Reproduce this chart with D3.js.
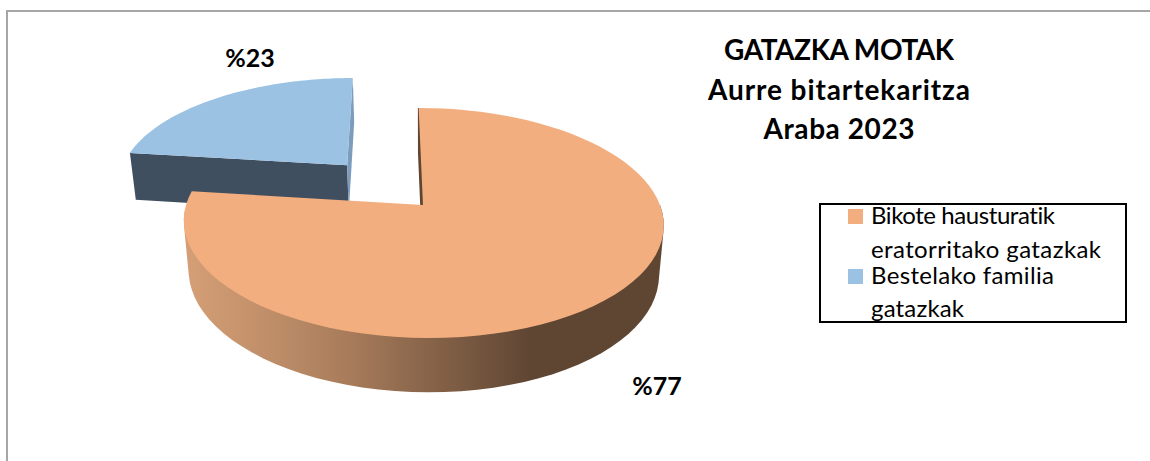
<!DOCTYPE html>
<html>
<head>
<meta charset="utf-8">
<script src="https://d3js.org/d3.v7.min.js"></script>
<style>
    html, body { margin: 0; padding: 0; background: #fff; }
    svg { display: block; }
    text { font-family: Lato, Carlito, sans-serif; font-variant-ligatures: none; }
</style>
</head>
<body>
<div id="canvas"></div>
<script>
const width = 1150;
const height = 461;

const categories = ["Bikote hausturatik eratorritako gatazkak", "Bestelako familia gatazkak"];
const values = [77, 23];
const titleLines = ["GATAZKA MOTAK", "Aurre bitartekaritza", "Araba 2023"];
const legendLines = [["Bikote hausturatik", "eratorritako gatazkak"], ["Bestelako familia", "gatazkak"]];

const topColors = ["#F2AE7F", "#9BC1E3"];

// tilted disc: u,v are coordinates on the unit disc, v points at the viewer
const apexX = 423, apexY = 205;
const discX = 237, discY = 112.2;
const persp = 0.1565, skew = 0.045;
const explode = 0.5;

function project(u, v) {
    const y = discY * v / (1 - persp * v);
    return [apexX + discX * u / (1 - persp * v) + skew * y, apexY + y];
}

// same point on the underside of the slab
function lower(p) {
    return [apexX + (p[0] - apexX) * 0.98, p[1] + 49 + (p[1] - apexY) * 0.04];
}

const svg = d3.select("#canvas")
    .append("svg")
    .attr("width", width)
    .attr("height", height)
    .style("background-color", "#fff");

const defs = svg.append("defs");
const wallGrad = defs.append("linearGradient")
    .attr("id", "wallGrad")
    .attr("gradientUnits", "userSpaceOnUse")
    .attr("x1", 185).attr("x2", 665).attr("y1", 0).attr("y2", 0);
[[0, "#D59F76"], [0.2, "#BC8C67"], [0.35, "#A67A5A"], [0.55, "#7F5E45"], [0.72, "#5F4633"], [1, "#5F4633"]]
    .forEach(s => wallGrad.append("stop").attr("offset", s[0]).attr("stop-color", s[1]));

// outer frame, only top and left show
svg.append("path")
    .attr("d", d3.line()([[7, height], [7, 11], [width, 11]]))
    .attr("fill", "none")
    .attr("stroke", "#A6A6A6")
    .attr("stroke-width", 2);

const slices = d3.pie().sort(null).value(d => d).startAngle(0).endAngle(2 * Math.PI)(values);
const line = d3.line();

function sliceGeom(s, offset) {
    const mid = (s.startAngle + s.endAngle) / 2;
    const ou = offset * Math.sin(mid), ov = -offset * Math.cos(mid);
    const rim = d3.range(0, 81).map(i => {
        const a = s.startAngle + (s.endAngle - s.startAngle) * i / 80;
        return project(ou + Math.sin(a), ov - Math.cos(a));
    });
    return { apex: project(ou, ov), rim: rim };
}

const big = sliceGeom(slices[0], 0);
const small = sliceGeom(slices[1], explode);

// blue slice goes first, the orange one sits in front of it
const smallFirst = small.rim[0], smallLast = small.rim[small.rim.length - 1];
svg.append("path")
    .attr("d", line([smallFirst, small.apex, lower(small.apex), lower(smallFirst)]) + "Z")
    .attr("fill", "#3F4F5F");
svg.append("path")
    .attr("d", line([smallLast, small.apex, lower(small.apex), lower(smallLast)]) + "Z")
    .attr("fill", "#7C9CBD");
svg.append("path")
    .attr("d", line([small.apex, ...small.rim]) + "Z")
    .attr("fill", topColors[1]);

const bigFirst = big.rim[0];
svg.append("path")
    .attr("d", line([bigFirst, big.apex, lower(big.apex), lower(bigFirst)]) + "Z")
    .attr("fill", "#5F4633")
    .attr("stroke", "#5F4633")
    .attr("stroke-width", 1.5);

// hull of the front half, so the sides of the slab run straight down from the rim
const frontRim = big.rim.filter(p => p[1] > apexY);
const wallHull = d3.polygonHull([...frontRim, ...frontRim.map(lower)]);
svg.append("path")
    .attr("d", line(wallHull) + "Z")
    .attr("fill", "url(#wallGrad)");
svg.append("path")
    .attr("d", line([big.apex, ...big.rim]) + "Z")
    .attr("fill", topColors[0]);

// data labels
svg.selectAll(".pct")
    .data(values)
    .join("text")
    .attr("class", "pct")
    .attr("x", (d, i) => [657, 250][i])
    .attr("y", (d, i) => [395, 67][i])
    .attr("text-anchor", "middle")
    .attr("font-size", "25px")
    .attr("font-weight", "bold")
    .attr("fill", "#000")
    .text(d => "%" + d);

// title
const titleWidths = [230, 262, 151];
svg.selectAll(".title")
    .data(titleLines)
    .join("text")
    .attr("class", "title")
    .attr("x", 839)
    .attr("y", (d, i) => 60 + i * 39.5)
    .attr("text-anchor", "middle")
    .attr("font-size", "28px")
    .attr("font-weight", "bold")
    .attr("fill", "#000")
    .attr("textLength", (d, i) => titleWidths[i])
    .attr("lengthAdjust", "spacing")
    .text(d => d);

// legend
svg.append("rect")
    .attr("x", 820).attr("y", 204)
    .attr("width", 306).attr("height", 118)
    .attr("fill", "#fff")
    .attr("stroke", "#000")
    .attr("stroke-width", 2);

const legendY = [[224, 258], [284, 317]];
const legendWidths = [[184, 230], [183, 93]];
categories.forEach((c, i) => {
    svg.append("rect")
        .attr("x", 848)
        .attr("y", legendY[i][0] - 15)
        .attr("width", 15).attr("height", 15)
        .attr("fill", topColors[i]);
    legendLines[i].forEach((t, j) => {
        svg.append("text")
            .attr("x", 871)
            .attr("y", legendY[i][j])
            .attr("font-size", "24px")
            .attr("fill", "#000")
            .attr("textLength", legendWidths[i][j])
            .attr("lengthAdjust", "spacing")
            .text(t);
    });
});
</script>
</body>
</html>
